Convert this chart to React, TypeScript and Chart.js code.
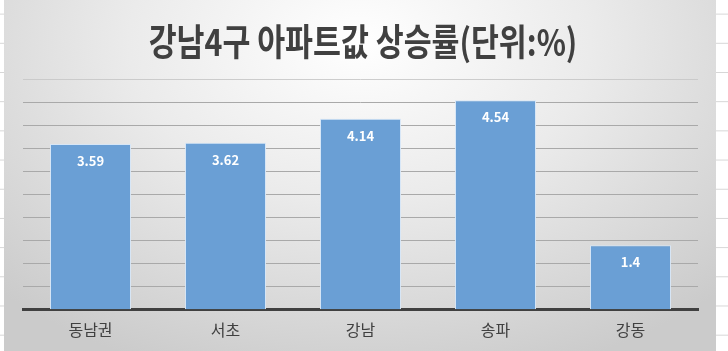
import React, { useEffect, useRef } from 'react';
import { Chart, registerables } from 'chart.js';

Chart.register(...registerables);

const categories = ['동남권', '서초', '강남', '송파', '강동'];
const values = [3.59, 3.62, 4.14, 4.54, 1.4];
const valueLabels = ['3.59', '3.62', '4.14', '4.54', '1.4'];
const chartTitle = '강남4구 아파트값 상승률(단위:%)';
const yMin = 0;
const yMax = 5;
const yStep = 0.5;

export default function App() {
  const ref = useRef<HTMLCanvasElement>(null);

  useEffect(() => {
    if (!ref.current) return;

    const titlePlugin = {
      id: 'condensedTitle',
      afterDraw(chart: any) {
        const ctx = chart.ctx;
        ctx.save();
        ctx.font = 'bold 37px "Noto Sans CJK KR", sans-serif';
        ctx.fillStyle = '#404040';
        ctx.textAlign = 'center';
        ctx.textBaseline = 'alphabetic';
        ctx.translate(chart.width / 2 + 3, 56);
        ctx.scale(0.82, 1);
        ctx.fillText(chartTitle, 0, 0);
        ctx.restore();
      },
    };

    const valuePlugin = {
      id: 'valueLabels',
      afterDatasetsDraw(chart: any) {
        const ctx = chart.ctx;
        const meta = chart.getDatasetMeta(0);
        ctx.save();
        ctx.font = 'bold 13px "Noto Sans CJK KR", sans-serif';
        ctx.fillStyle = '#ffffff';
        ctx.textAlign = 'center';
        ctx.textBaseline = 'middle';
        meta.data.forEach((bar: any, i: number) => {
          ctx.fillText(valueLabels[i], bar.x, bar.y + 17);
        });
        ctx.restore();
      },
    };

    const chart = new Chart(ref.current, {
      type: 'bar',
      data: {
        labels: categories,
        datasets: [
          {
            data: values,
            backgroundColor: '#6a9fd5',
            borderColor: 'rgba(214,230,247,0.95)',
            borderWidth: 1,
            barPercentage: 0.6,
            categoryPercentage: 1,
          },
        ],
      },
      options: {
        responsive: true,
        maintainAspectRatio: false,
        animation: false,
        layout: { padding: { top: 79, left: 19, right: 18, bottom: 0 } },
        plugins: {
          legend: { display: false },
          title: { display: false },
          tooltip: { enabled: false },
        },
        scales: {
          x: {
            grid: { display: false, drawTicks: false },
            border: { display: true, color: '#404040', width: 3 },
            ticks: {
              padding: 11,
              color: '#404040',
              font: { size: 16, family: '"Noto Sans CJK KR", sans-serif' },
            },
          },
          y: {
            min: yMin,
            max: yMax,
            ticks: { display: false, stepSize: yStep },
            border: { display: false },
            grid: {
              drawTicks: false,
              color: (c: any) =>
                c.tick && c.tick.value === yMax
                  ? 'rgba(200,200,200,0.9)'
                  : c.tick && c.tick.value === yMin
                  ? 'rgba(0,0,0,0)'
                  : '#a9a9a9',
              lineWidth: 1,
            },
          },
        },
      },
      plugins: [titlePlugin, valuePlugin],
    });

    return () => chart.destroy();
  }, []);

  return (
    <div
      style={{
        position: 'fixed',
        left: 0,
        top: 0,
        width: 728,
        height: 351,
        backgroundColor: '#ffffff',
        backgroundImage:
          'linear-gradient(to bottom, transparent 0px, transparent 14px, #d6d6d6 14px, #d6d6d6 15px, transparent 15px)',
        backgroundSize: '100% 29.2px',
        backgroundRepeat: 'repeat',
        overflow: 'hidden',
      }}
    >
      <div
        style={{
          position: 'absolute',
          left: 4,
          top: 0,
          width: 712,
          height: 351,
          background:
            'radial-gradient(ellipse 72% 100% at 50% 12%, #ffffff 0%, #ebebeb 45%, #cbcbcb 100%)',
        }}
      >
        <canvas ref={ref} />
      </div>
    </div>
  );
}
